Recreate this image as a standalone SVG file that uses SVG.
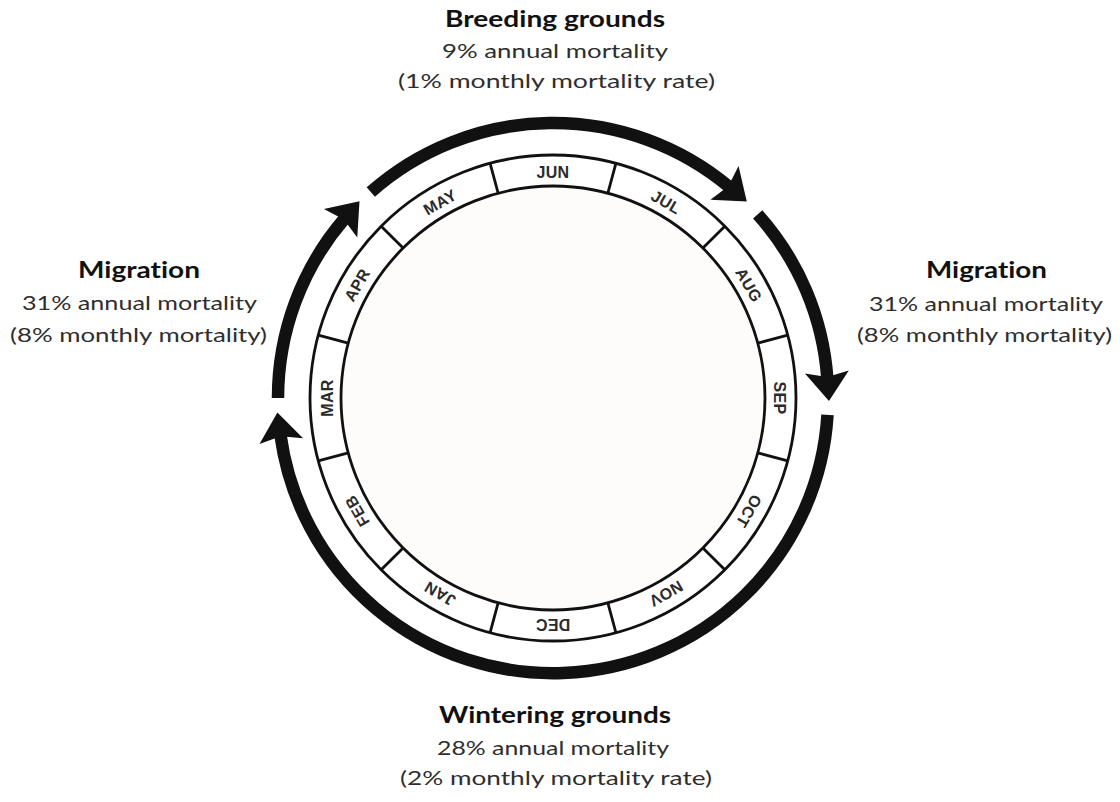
<svg xmlns="http://www.w3.org/2000/svg" width="1120" height="802" viewBox="0 0 1120 802">
<style>
.title{font-family:Lato,"Liberation Sans",sans-serif;font-weight:700;font-size:22px;fill:#111;font-variant-ligatures:none}
.body{font-family:Lato,"Liberation Sans",sans-serif;font-size:20px;fill:#2e2e2e;font-variant-ligatures:none}
.month{font-family:"Liberation Sans",Arial,sans-serif;font-weight:700;font-size:16px;fill:#2b2b2b;text-anchor:middle;letter-spacing:0.3px}
.ring{fill:none;stroke:#111;stroke-width:2.8}
.div{stroke:#111;stroke-width:2.8}
.arc{fill:none;stroke:#111;stroke-width:12.5;stroke-linecap:butt}
</style>
<defs>
<marker id="head" markerUnits="userSpaceOnUse" viewBox="0 -22 29 44" markerWidth="29" markerHeight="44" refX="6" refY="0" orient="auto" overflow="visible">
<path d="M29,0 L0,-22 L5,0 L0,22 Z" fill="#111"/>
</marker>
</defs>
<rect width="1120" height="802" fill="#fff"/>
<g id="wheel">
<circle cx="553" cy="398" r="212" fill="#fdfcfa"/>
<circle class="ring" cx="553" cy="398" r="243"/>
<circle class="ring" cx="553" cy="398" r="212"/>
<g id="dividers">
<line class="div" x1="553" y1="186" x2="553" y2="155" transform="rotate(15 553 398)"/>
<line class="div" x1="553" y1="186" x2="553" y2="155" transform="rotate(45 553 398)"/>
<line class="div" x1="553" y1="186" x2="553" y2="155" transform="rotate(75 553 398)"/>
<line class="div" x1="553" y1="186" x2="553" y2="155" transform="rotate(105 553 398)"/>
<line class="div" x1="553" y1="186" x2="553" y2="155" transform="rotate(135 553 398)"/>
<line class="div" x1="553" y1="186" x2="553" y2="155" transform="rotate(165 553 398)"/>
<line class="div" x1="553" y1="186" x2="553" y2="155" transform="rotate(195 553 398)"/>
<line class="div" x1="553" y1="186" x2="553" y2="155" transform="rotate(225 553 398)"/>
<line class="div" x1="553" y1="186" x2="553" y2="155" transform="rotate(255 553 398)"/>
<line class="div" x1="553" y1="186" x2="553" y2="155" transform="rotate(285 553 398)"/>
<line class="div" x1="553" y1="186" x2="553" y2="155" transform="rotate(315 553 398)"/>
<line class="div" x1="553" y1="186" x2="553" y2="155" transform="rotate(345 553 398)"/>
</g>
<g id="m-jun"><text class="month" x="553" y="177.5" transform="rotate(0 553 398)">JUN</text></g>
<g id="m-jul"><text class="month" x="553" y="177.5" transform="rotate(30 553 398)">JUL</text></g>
<g id="m-aug"><text class="month" x="553" y="177.5" transform="rotate(60 553 398)">AUG</text></g>
<g id="m-sep"><text class="month" x="553" y="177.5" transform="rotate(90 553 398)">SEP</text></g>
<g id="m-oct"><text class="month" x="553" y="177.5" transform="rotate(120 553 398)">OCT</text></g>
<g id="m-nov"><text class="month" x="553" y="177.5" transform="rotate(150 553 398)">NOV</text></g>
<g id="m-dec"><text class="month" x="553" y="177.5" transform="rotate(180 553 398)">DEC</text></g>
<g id="m-jan"><text class="month" x="553" y="177.5" transform="rotate(210 553 398)">JAN</text></g>
<g id="m-feb"><text class="month" x="553" y="177.5" transform="rotate(240 553 398)">FEB</text></g>
<g id="m-mar"><text class="month" x="553" y="177.5" transform="rotate(270 553 398)">MAR</text></g>
<g id="m-apr"><text class="month" x="553" y="177.5" transform="rotate(300 553 398)">APR</text></g>
<g id="m-may"><text class="month" x="553" y="177.5" transform="rotate(330 553 398)">MAY</text></g>
</g>
<g id="connectors">
<path class="arc" d="M370.8,192.0 A275,275 0 0 1 729.1,186.8" marker-end="url(#head)"/>
<path class="arc" d="M757.7,214.4 A275,275 0 0 1 827.3,378.0" marker-end="url(#head)"/>
<path class="arc" d="M827.5,414.8 A275,275 0 0 1 280.5,435.2" marker-end="url(#head)"/>
<path class="arc" d="M278,398 A275,275 0 0 1 344.5,218.7" marker-end="url(#head)"/>
</g>
<g id="label-breeding">
<text class="title" x="445" y="27" textLength="220" lengthAdjust="spacingAndGlyphs">Breeding grounds</text>
<text class="body" x="442" y="58" textLength="226" lengthAdjust="spacingAndGlyphs">9% annual mortality</text>
<text class="body" x="398" y="88" textLength="317" lengthAdjust="spacingAndGlyphs">(1% monthly mortality rate)</text>
</g>
<g id="label-migration-left">
<text class="title" x="78" y="278" textLength="122" lengthAdjust="spacingAndGlyphs">Migration</text>
<text class="body" x="22" y="310" textLength="235" lengthAdjust="spacingAndGlyphs">31% annual mortality</text>
<text class="body" x="10" y="342" textLength="257" lengthAdjust="spacingAndGlyphs">(8% monthly mortality)</text>
</g>
<g id="label-migration-right">
<text class="title" x="926" y="278" textLength="121" lengthAdjust="spacingAndGlyphs">Migration</text>
<text class="body" x="869" y="311" textLength="234" lengthAdjust="spacingAndGlyphs">31% annual mortality</text>
<text class="body" x="857" y="342" textLength="255" lengthAdjust="spacingAndGlyphs">(8% monthly mortality)</text>
</g>
<g id="label-wintering">
<text class="title" x="439" y="723" textLength="232" lengthAdjust="spacingAndGlyphs">Wintering grounds</text>
<text class="body" x="437" y="755" textLength="232" lengthAdjust="spacingAndGlyphs">28% annual mortality</text>
<text class="body" x="400" y="785" textLength="312" lengthAdjust="spacingAndGlyphs">(2% monthly mortality rate)</text>
</g>
</svg>
